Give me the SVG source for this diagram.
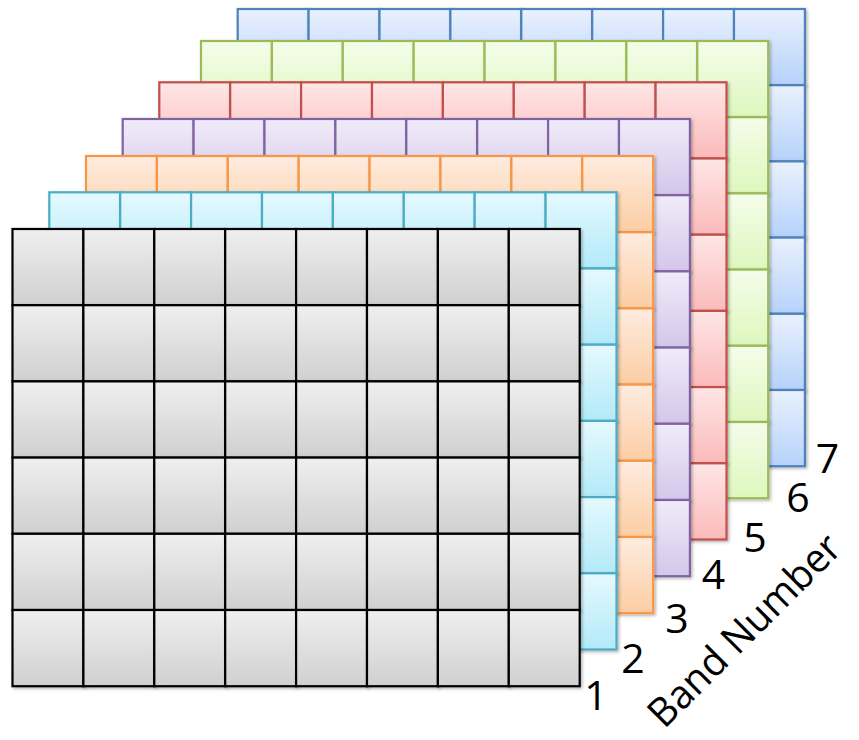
<svg xmlns="http://www.w3.org/2000/svg" xmlns:xlink="http://www.w3.org/1999/xlink" width="859" height="740" viewBox="0 0 859 740">
<style>
.lbl{font-family:"Open Sans","Liberation Sans",Arial,sans-serif;font-size:41px;fill:#000}
.gray{fill:url(#gGray);stroke:#000}
.cyan{fill:url(#gCyan);stroke:#4bacc6}
.orange{fill:url(#gOrange);stroke:#f79646}
.purple{fill:url(#gPurple);stroke:#8064a2}
.red{fill:url(#gRed);stroke:#c0504d}
.green{fill:url(#gGreen);stroke:#9bbb59}
.blue{fill:url(#gBlue);stroke:#4f81bd}
.layer{stroke-width:2.2}
</style>
<defs>
<linearGradient id="gGray" x1="0" y1="0" x2="0" y2="1"><stop offset="0" stop-color="#efefef"/><stop offset="1" stop-color="#d0d0d0"/></linearGradient>
<linearGradient id="gCyan" x1="0" y1="0" x2="0" y2="1"><stop offset="0" stop-color="#e5f9fe"/><stop offset="1" stop-color="#b3eaf9"/></linearGradient>
<linearGradient id="gOrange" x1="0" y1="0" x2="0" y2="1"><stop offset="0" stop-color="#feece0"/><stop offset="1" stop-color="#fccda3"/></linearGradient>
<linearGradient id="gPurple" x1="0" y1="0" x2="0" y2="1"><stop offset="0" stop-color="#f0ecf9"/><stop offset="1" stop-color="#d4c6ea"/></linearGradient>
<linearGradient id="gRed" x1="0" y1="0" x2="0" y2="1"><stop offset="0" stop-color="#ffe6e6"/><stop offset="1" stop-color="#fbbaba"/></linearGradient>
<linearGradient id="gGreen" x1="0" y1="0" x2="0" y2="1"><stop offset="0" stop-color="#f5fdea"/><stop offset="1" stop-color="#ddf7bd"/></linearGradient>
<linearGradient id="gBlue" x1="0" y1="0" x2="0" y2="1"><stop offset="0" stop-color="#e9f1fd"/><stop offset="1" stop-color="#b6d2fb"/></linearGradient>
<filter id="sh" x="-10%" y="-10%" width="130%" height="130%"><feDropShadow dx="1.5" dy="1.5" stdDeviation="1.5" flood-color="#000" flood-opacity="0.3"/></filter>
<rect id="cell" width="70.9" height="76.2" filter="url(#sh)"/>
<g id="row">
<use xlink:href="#cell" x="0"/>
<use xlink:href="#cell" x="70.9"/>
<use xlink:href="#cell" x="141.8"/>
<use xlink:href="#cell" x="212.7"/>
<use xlink:href="#cell" x="283.6"/>
<use xlink:href="#cell" x="354.5"/>
<use xlink:href="#cell" x="425.4"/>
<use xlink:href="#cell" x="496.3"/>
</g>
<g id="grid">
<use xlink:href="#row" y="0"/>
<use xlink:href="#row" y="76.2"/>
<use xlink:href="#row" y="152.4"/>
<use xlink:href="#row" y="228.6"/>
<use xlink:href="#row" y="304.8"/>
<use xlink:href="#row" y="381"/>
</g>
</defs>
<g id="band7" class="layer blue"><use xlink:href="#grid" x="237.7" y="9"/></g>
<g id="band6" class="layer green"><use xlink:href="#grid" x="201" y="41"/></g>
<g id="band5" class="layer red"><use xlink:href="#grid" x="159.3" y="82.3"/></g>
<g id="band4" class="layer purple"><use xlink:href="#grid" x="122.7" y="119"/></g>
<g id="band3" class="layer orange"><use xlink:href="#grid" x="86" y="156"/></g>
<g id="band2" class="layer cyan"><use xlink:href="#grid" x="49.3" y="192.3"/></g>
<g id="band1" class="layer gray"><use xlink:href="#grid" x="12.5" y="229"/></g>
<g id="labels" class="lbl" text-anchor="middle">
<text x="596" y="710">1</text>
<text x="633" y="672.5">2</text>
<text x="677" y="633">3</text>
<text x="713.5" y="589">4</text>
<text x="755" y="551.5">5</text>
<text x="798" y="511.5">6</text>
<text x="827.5" y="472.5">7</text>
<text x="754" y="640" font-size="40" textLength="254" lengthAdjust="spacingAndGlyphs" transform="rotate(-45 754 640)">Band Number</text>
</g>
</svg>
